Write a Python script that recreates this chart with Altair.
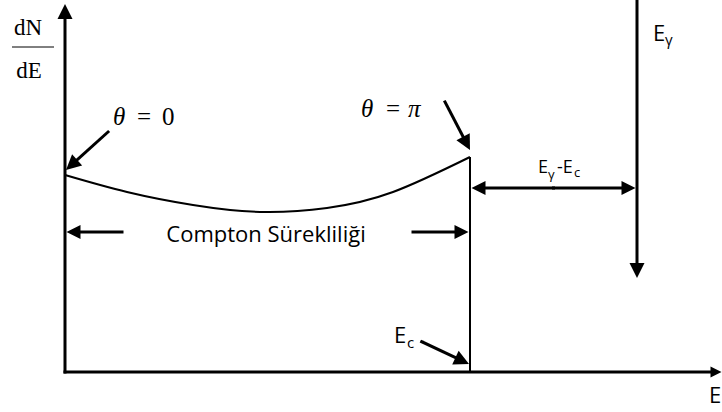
import math
import pandas as pd
import altair as alt

# ---- coordinate frame (arbitrary units; origin where the two axes meet) ----
E_MIN, E_MAX = -0.65, 6.57      # energy axis
N_MIN, N_MAX = -0.40, 3.72      # dN/dE axis

# ---- Compton continuum shape between theta = 0 and the Compton edge ----
curve_E = [0.00, 0.62, 1.28, 1.95, 2.62, 3.28, 4.05]
curve_N = [1.97, 1.80, 1.67, 1.60, 1.64, 1.80, 2.15]

E_C = 4.05        # Compton edge
E_GAMMA = 5.72    # incident photon energy
E_TIP = 6.565     # end of energy axis
N_TIP = 3.68      # end of dN/dE axis
COMPTON_Y = 1.40  # level of the "Compton Sürekliliği" span arrows
GAP_Y = 1.84      # level of the E_gamma - E_c span arrow

# arrows: tail (E, N), tip (E, N), head length in px
arrow_name = ["yaxis", "xaxis", "egamma", "theta0", "thetapi", "ec",
              "compL", "compR", "gapL", "gapR"]
arrow_tail_E = [0.0, 0.0, E_GAMMA, 0.43, 3.80, 3.567, 0.57, 3.48,
                (E_C + E_GAMMA) / 2, (E_C + E_GAMMA) / 2]
arrow_tail_N = [0.0, 0.0, 3.75, 2.40, 2.70, 0.303, COMPTON_Y, COMPTON_Y, GAP_Y, GAP_Y]
arrow_tip_E = [0.0, E_TIP, E_GAMMA, 0.01, E_C, 4.04, 0.015, E_C - 0.015,
               E_C + 0.015, E_GAMMA - 0.015]
arrow_tip_N = [N_TIP, 0.0, 0.94, 2.02, 2.22, 0.08, COMPTON_Y, COMPTON_Y, GAP_Y, GAP_Y]
arrow_head = [15, 11, 15, 15, 15, 15, 14, 14, 14, 14]

PX_PER_UNIT = 100.0
HEAD_PATH = "M0,0L-0.5,1L0.5,1Z"   # tip at the symbol origin, pointing up

rows = []
for name, tx, ty, hx, hy, L in zip(arrow_name, arrow_tail_E, arrow_tail_N,
                                   arrow_tip_E, arrow_tip_N, arrow_head):
    dx, dy = hx - tx, hy - ty
    length = math.hypot(dx, dy)
    ux, uy = dx / length, dy / length
    back = 0.7 * L / PX_PER_UNIT
    rows.append({
        "name": name,
        "x0": tx, "y0": ty,
        "x1": hx - ux * back, "y1": hy - uy * back,
        "hx": hx, "hy": hy,
        "angle": math.degrees(math.atan2(dx, dy)) % 360,
        "size": 4 * L * L,
    })
arrows = pd.DataFrame(rows)

curve = pd.DataFrame({"E": curve_E, "N": curve_N})
edge = pd.DataFrame({"E": [E_C], "N0": [0.0], "N1": [curve_N[-1]]})
frac_bar = pd.DataFrame({"E0": [-0.53], "E1": [-0.11], "N": [3.25]})

xs = alt.Scale(domain=[E_MIN, E_MAX], nice=False, zero=False)
ys = alt.Scale(domain=[N_MIN, N_MAX], nice=False, zero=False)


def X(f):
    return alt.X(f, type="quantitative", scale=xs, axis=None)


def Y(f):
    return alt.Y(f, type="quantitative", scale=ys, axis=None)


def labels(text, E, N):
    return pd.DataFrame({"text": text, "E": E, "N": N})


def text_layer(df, **mark):
    return alt.Chart(df).mark_text(color="black", baseline="alphabetic", **mark).encode(
        x=X("E"), y=Y("N"), text="text:N")


shafts = alt.Chart(arrows).mark_rule(color="black", strokeWidth=3, strokeCap="square").encode(
    x=X("x0"), y=Y("y0"), x2="x1", y2="y1")

heads = alt.Chart(arrows).mark_point(shape=HEAD_PATH, filled=True, color="black",
                                     opacity=1).encode(
    x=X("hx"), y=Y("hy"),
    angle=alt.Angle("angle:Q", scale=None),
    size=alt.Size("size:Q", scale=None))

continuum = alt.Chart(curve).mark_line(color="black", strokeWidth=2,
                                       interpolate="natural").encode(
    x=X("E"), y=Y("N"))

edge_line = alt.Chart(edge).mark_rule(color="black", strokeWidth=2).encode(
    x=X("E"), y=Y("N0"), y2="N1")

bar = alt.Chart(frac_bar).mark_rule(color="black", strokeWidth=1).encode(
    x=X("E0"), x2="E1", y=Y("N"))

SERIF = "Liberation Serif"
SANS = "Open Sans"

texts = [
    # dN / dE
    text_layer(labels(["dN", "dE"], [-0.37, -0.36], [3.37, 2.94]),
               font=SERIF, fontSize=23, align="center"),
    # theta = 0, theta = pi
    text_layer(labels(["θ", "θ", "π"], [0.48, 2.96, 3.43], [2.47, 2.55, 2.55]),
               font=SERIF, fontSize=25, fontStyle="italic", align="left"),
    text_layer(labels(["=", "0", "="], [0.72, 0.97, 3.21], [2.47, 2.47, 2.55]),
               font=SERIF, fontSize=25, align="left"),
    # Compton continuum
    text_layer(labels(["Compton Sürekliliği"], [2.01], [1.303]),
               font=SANS, fontSize=22, align="center"),
    # E_gamma, E_c, E
    text_layer(labels(["E", "E", "E"], [5.88, 3.29, 6.44], [3.31, 0.29, -0.31]),
               font=SANS, fontSize=22, align="left"),
    text_layer(labels(["γ", "c"], [6.00, 3.42], [3.27, 0.24]),
               font=SANS, fontSize=15, align="left"),
    # E_gamma - E_c
    text_layer(labels(["E", "-E"], [4.73, 4.92], [1.99, 1.99]),
               font=SANS, fontSize=18, align="left"),
    text_layer(labels(["γ", "c"], [4.83, 5.09], [1.93, 1.95]),
               font=SANS, fontSize=13, align="left"),
]

chart = alt.layer(continuum, edge_line, bar, shafts, heads, *texts).properties(
    width=722, height=412, padding=0,
    autosize=alt.AutoSizeParams(type="none"),
    background="white",
).configure_view(stroke=None)

chart.save("out.html", embed_options={"renderer": "svg", "actions": False})
